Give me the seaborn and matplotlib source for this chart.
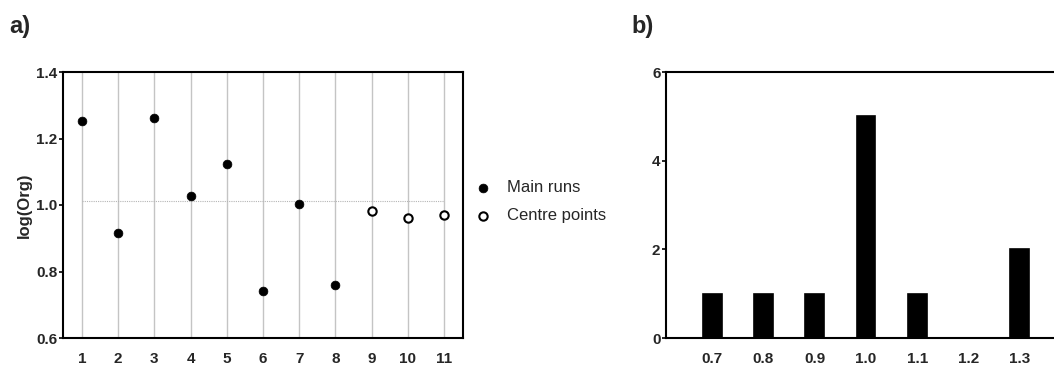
import numpy as np
import pandas as pd
import matplotlib
matplotlib.use("Agg")
import matplotlib.pyplot as plt
import seaborn as sns

# Panel a: log(Org) per experimental run
runs = [1, 2, 3, 4, 5, 6, 7, 8, 9, 10, 11]
log_org = [1.252, 0.917, 1.262, 1.027, 1.124, 0.740, 1.003, 0.760, 0.983, 0.960, 0.970]
run_type = ["Main runs"] * 8 + ["Centre points"] * 3

# Panel b: frequency of log(Org) values
bins = ["0.7", "0.8", "0.9", "1.0", "1.1", "1.2", "1.3"]
counts = [1, 1, 1, 5, 1, 0, 2]

sns.set_theme(style="white")
plt.rcParams["font.family"] = ["Liberation Sans", "DejaVu Sans"]

fig = plt.figure(figsize=(10.54, 3.65), dpi=100)
W, H = 1054, 365
ax1 = fig.add_axes([63 / W, 27 / H, 400 / W, 266 / H])
ax2 = fig.add_axes([666 / W, 27 / H, 400 / W, 266 / H])

df = pd.DataFrame({"run": runs, "log_org": log_org, "type": run_type})

# vertical guides at each run
for r in runs:
    ax1.axvline(r, color="#c4c4c4", lw=1.0, zorder=0)
main_mean = df.loc[df["type"] == "Main runs", "log_org"].mean()
ax1.plot([runs[0], runs[-1]], [main_mean, main_mean], color="#b5b5b5", lw=0.8,
         ls=(0, (1, 1)), zorder=0)

main = df[df["type"] == "Main runs"]
centre = df[df["type"] == "Centre points"]
sns.scatterplot(data=main, x="run", y="log_org", ax=ax1, color="black", s=40,
                edgecolor="black", linewidth=0.5, label="Main runs", zorder=3)
sns.scatterplot(data=centre, x="run", y="log_org", ax=ax1, facecolor="white", s=36,
                edgecolor="black", linewidth=1.5, label="Centre points", zorder=3)

ax1.set_xlim(0.48, 11.52)
ax1.set_ylim(0.6, 1.4)
ax1.set_xticks(runs)
ax1.set_yticks([0.6, 0.8, 1.0, 1.2, 1.4])
ax1.set_xlabel("")
ax1.set_ylabel("log(Org)", fontsize=12, fontweight="bold", labelpad=3)
for s in ax1.spines.values():
    s.set_color("black")
    s.set_linewidth(1.5)
ax1.tick_params(axis="y", which="both", left=True, length=3, width=1.2, color="black",
                labelsize=11, pad=1)
ax1.tick_params(axis="x", bottom=False, length=0, labelsize=11, pad=10)
for lab in ax1.get_xticklabels() + ax1.get_yticklabels():
    lab.set_fontweight("bold")
ax1.legend(loc="center left", bbox_to_anchor=(0.971, 0.512), frameon=False,
           fontsize=12, handletextpad=0.45, labelspacing=0.78, markerscale=1.0)

# Panel b histogram
dfb = pd.DataFrame({"bin": bins, "count": counts})
sns.barplot(data=dfb, x="bin", y="count", ax=ax2, color="black", width=0.37,
            edgecolor="black", linewidth=1.2, saturation=1)
ax2.set_xlim(-0.9, 6.9)
ax2.set_ylim(0, 6)
ax2.set_yticks([0, 2, 4, 6])
ax2.set_xlabel("")
ax2.set_ylabel("")
ax2.spines["right"].set_visible(False)
for k in ["left", "top", "bottom"]:
    ax2.spines[k].set_color("black")
    ax2.spines[k].set_linewidth(1.5)
ax2.tick_params(axis="y", left=True, length=3, width=1.2, color="black",
                labelsize=11, pad=1)
ax2.tick_params(axis="x", bottom=False, length=0, labelsize=11, pad=10)
for lab in ax2.get_xticklabels() + ax2.get_yticklabels():
    lab.set_fontweight("bold")

fig.text(9 / W, 1 - 27 / H, "a)", fontsize=17, fontweight="bold", va="center")
fig.text(631 / W, 1 - 26 / H, "b)", fontsize=17, fontweight="bold", va="center")

fig.savefig("out.png", dpi=100)
